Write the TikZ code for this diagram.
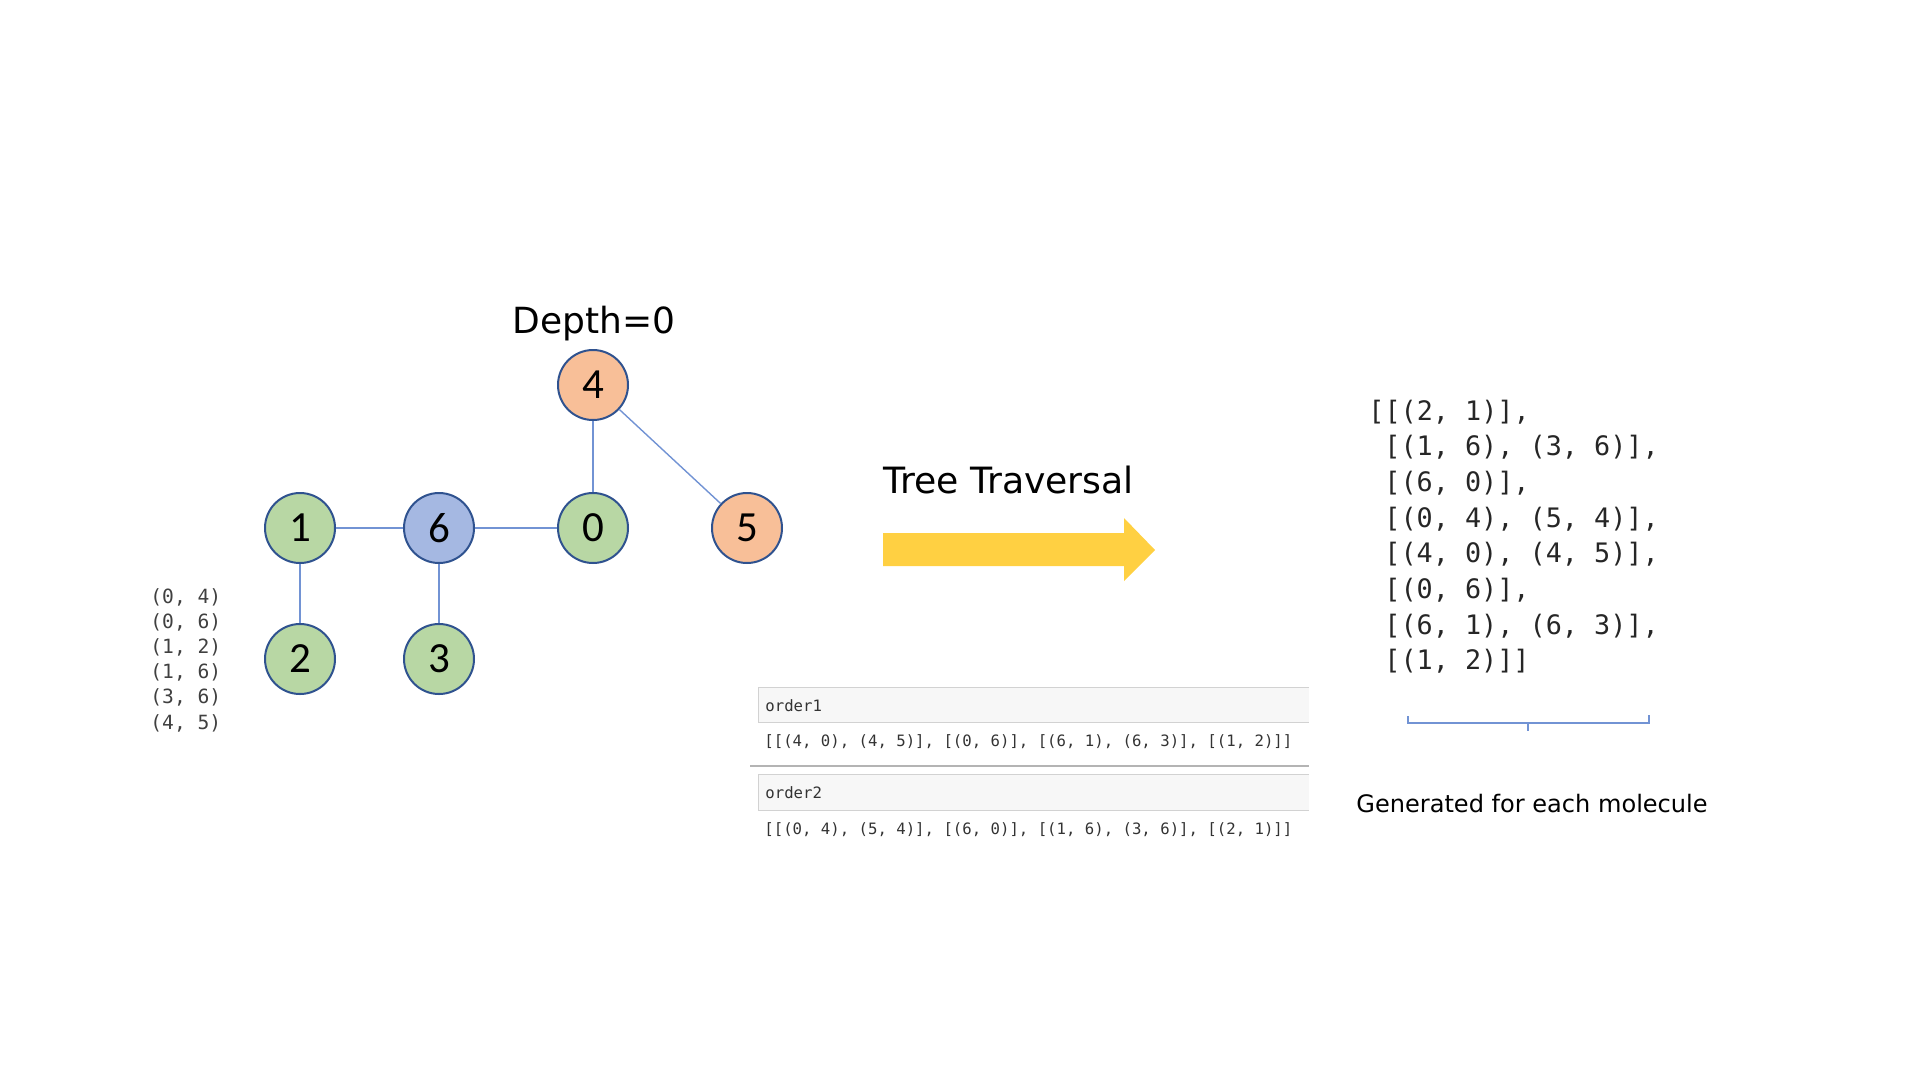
\documentclass[tikz,border=0pt]{standalone}
\usepackage{fontspec}
\setmainfont{DejaVu Sans}
\setmonofont{DejaVu Sans Mono}
\newfontfamily\atomfont{Carlito}
\usepackage{tikz}
\usetikzlibrary{positioning}
\definecolor{atomgreen}{RGB}{184,215,164}
\definecolor{atomorange}{RGB}{248,191,152}
\definecolor{atomblue}{RGB}{165,184,226}
\definecolor{atomline}{RGB}{47,82,143}
\definecolor{bondblue}{RGB}{114,147,212}
\definecolor{arrowgold}{RGB}{255,208,66}
\definecolor{cellgray}{RGB}{247,247,247}
\definecolor{cellline}{RGB}{210,210,210}
\definecolor{sepgray}{RGB}{180,180,180}
\tikzstyle{atom}    = [circle, draw=atomline, line width=1pt, minimum size=35pt, inner sep=0pt, font=\atomfont\fontsize{21.5}{25}\selectfont]
\tikzstyle{bond}    = [draw=bondblue, line width=0.7pt]
\tikzstyle{heading} = [anchor=base west, inner sep=0pt]
\tikzstyle{pairs}   = [anchor=base west, inner sep=0pt, text=black!75, font=\ttfamily\fontsize{9.8}{12}\selectfont]
\tikzstyle{seq}     = [anchor=base west, inner sep=0pt, text=black!85, font=\ttfamily\fontsize{13.4}{16}\selectfont]
\tikzstyle{cell}    = [anchor=base west, inner sep=0pt, text=black!80, font=\ttfamily\fontsize{7.83}{10}\selectfont]

\begin{document}
\begin{tikzpicture}[x=0.5pt, y=-0.5pt]
    \useasboundingbox (0,0) rectangle (1917,1072);

    % molecule graph
    \node[atom, fill=atomorange] (a4) at (593,385) {4};
    \node[atom, fill=atomgreen]  (a1) at (300,528) {1};
    \node[atom, fill=atomblue]   (a6) at (439,528) {6};
    \node[atom, fill=atomgreen]  (a0) at (593,528) {0};
    \node[atom, fill=atomorange] (a5) at (747,528) {5};
    \node[atom, fill=atomgreen]  (a2) at (300,659) {2};
    \node[atom, fill=atomgreen]  (a3) at (439,659) {3};

    \draw[bond] (a4) -- (a0);
    \draw[bond] (a4) -- (a5);
    \draw[bond] (a1) -- (a6);
    \draw[bond] (a6) -- (a0);
    \draw[bond] (a1) -- (a2);
    \draw[bond] (a6) -- (a3);

    \node[heading, anchor=base, font=\fontsize{18}{22}\selectfont] (depth) at (594,333) {Depth=0};

    % bond list
    \foreach \pr [count=\i] in {{(0, 4)},{(0, 6)},{(1, 2)},{(1, 6)},{(3, 6)},{(4, 5)}}
        \node[pairs] (pair\i) at (150,{603+(\i-1)*25.2}) {\pr};

    % traversal arrow
    \node[heading, font=\fontsize{18.1}{21}\selectfont] (travlabel) at (883,493) {Tree Traversal};
    \fill[arrowgold] (883,533) -- (1124,533) -- (1124,518) -- (1155,550) -- (1124,581) -- (1124,566) -- (883,566) -- cycle;

    % notebook cells
    \fill[cellgray] (758,687) rectangle (1309,722);
    \draw[cellline] (1309,687) -- (758,687) -- (758,722) -- (1309,722);
    \node[cell] (order1) at (765,711) {order1};
    \node[cell] (out1) at (764,746) {[[(4, 0), (4, 5)], [(0, 6)], [(6, 1), (6, 3)], [(1, 2)]]};
    \draw[sepgray, line width=0.8pt] (750,766) -- (1309,766);
    \fill[cellgray] (758,774) rectangle (1309,810);
    \draw[cellline] (1309,774) -- (758,774) -- (758,810) -- (1309,810);
    \node[cell] (order2) at (765,798) {order2};
    \node[cell] (out2) at (764,834) {[[(0, 4), (5, 4)], [(6, 0)], [(1, 6), (3, 6)], [(2, 1)]]};

    % generated sequence
    \node[seq] (seq1) at (1368,420) {[[(2, 1)],};
    \foreach \txt [count=\i] in {{[(1, 6), (3, 6)],},{[(6, 0)],},{[(0, 4), (5, 4)],},{[(4, 0), (4, 5)],},{[(0, 6)],},{[(6, 1), (6, 3)],},{[(1, 2)]]}}
        \node[seq] (seq\i) at (1384,{420+\i*35.7}) {\txt};

    \draw[bondblue, line width=0.8pt] (1408,716) -- (1408,723) -- (1649,723) -- (1649,715);
    \draw[bondblue, line width=0.8pt] (1528,723) -- (1528,731);
    \node[heading, font=\fontsize{12.03}{14}\selectfont] (caption) at (1356,812) {Generated for each molecule};
\end{tikzpicture}
\end{document}
